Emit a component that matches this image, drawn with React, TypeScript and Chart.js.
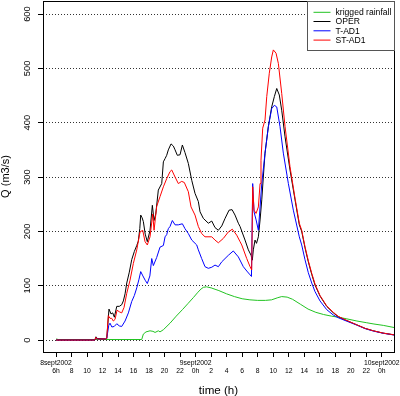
import { useEffect, useRef } from "react";
import { Chart, registerables } from "chart.js";

Chart.register(...registerables);

// ---- data (hours counted from 8 sept 2002 0h) ----
const xTickHours = [6, 8, 10, 12, 14, 16, 18, 20, 22, 24, 26, 28, 30, 32, 34, 36, 38, 40, 42, 44, 46, 48];
const xTickHourLabels = ["6h", "8", "10", "12", "14", "16", "18", "20", "22", "0h", "2", "4", "6", "8", "10", "12", "14", "16", "18", "20", "22", "0h"];
const xTickDateLabels = ["8sept2002", "", "", "", "", "", "", "", "", "9sept2002", "", "", "", "", "", "", "", "", "", "", "", "10sept2002"];
const yTicks = [0, 100, 200, 300, 400, 500, 600];

const seriesNames = ["krigged rainfall", "OPER", "T-AD1", "ST-AD1"];
const seriesColors = ["#22c322", "#000000", "#0000ff", "#ff0000"];

const rainHours = [6, 6.3, 17.05, 17.26, 17.6, 18.12, 18.5, 18.77, 19.19, 19.41, 19.84, 20.7, 21.5, 22.3, 23.0, 23.7, 24.3, 24.7, 25.0, 25.4, 26.0, 27.0, 28.0, 29.0, 30.0, 31.0, 32.0, 33.0, 33.8, 34.6, 35.1, 35.8, 36.5, 37.5, 38.5, 39.5, 40.5, 41.5, 42.4, 43.5, 44.8, 46.0, 47.0, 48.2, 49.62];
const rainQ = [2, 1, 1, 11, 15, 17, 16, 14, 17, 15, 19, 31, 44, 56, 67, 78, 88, 94, 97, 98, 96, 91, 85, 80, 76, 74, 73, 73, 74, 78, 80, 79, 75, 66, 57, 51, 47, 44, 42, 39, 35, 32, 29.5, 27, 23];

const operHours = [6, 11.0, 11.15, 11.3, 12.4, 12.54, 12.83, 13.09, 13.31, 13.52, 13.83, 14.16, 14.47, 14.68, 14.9, 15.12, 15.45, 15.76, 16.1, 16.41, 16.61, 16.8, 16.92, 17.1, 17.26, 17.5, 17.77, 18.12, 18.42, 18.64, 18.86, 19.19, 19.63, 19.84, 20.06, 20.27, 20.48, 20.83, 21.13, 21.35, 21.64, 21.99, 22.29, 22.63, 23.06, 23.5, 23.92, 24.35, 24.57, 24.99, 25.64, 26.08, 26.5, 26.93, 27.37, 27.8, 28.31, 28.7, 29.08, 29.51, 29.73, 30.37, 30.8, 31.15, 31.31, 31.44, 31.66, 31.85, 32.09, 32.31, 32.53, 32.73, 32.95, 33.38, 33.81, 34.15, 34.46, 34.79, 35.1, 35.53, 36.17, 36.82, 37.37, 37.68, 38.1, 38.53, 38.97, 39.4, 40.04, 40.9, 41.76, 42.4, 43.27, 44.78, 45.85, 46.92, 48.17, 49.62];
const operQ = [0, 0, 6, 3, 2, 3, 57, 48, 50, 42, 62, 62, 65, 72, 85, 105, 125, 148, 163, 174, 182, 205, 230, 225, 218, 195, 181, 202, 248, 220, 232, 276, 288, 328, 334, 340, 350, 361, 357, 350, 340, 341, 359, 345, 325, 294, 270, 255, 236, 224, 215, 219, 207, 202, 210, 224, 239, 240, 230, 215, 209, 184, 166, 156, 147, 166, 184, 178, 190, 221, 258, 300, 344, 393, 429, 448, 463, 451, 423, 374, 313, 258, 212, 200, 170, 144, 121, 101, 81, 62, 50, 43, 37, 28, 21.5, 17, 12.8, 9.5];

const tad1Hours = [6, 11.0, 11.15, 11.3, 12.4, 12.54, 12.8, 12.96, 13.2, 13.5, 13.83, 14.16, 14.47, 14.9, 15.33, 15.76, 16.1, 16.41, 16.7, 16.92, 17.2, 17.5, 17.77, 18.1, 18.34, 18.55, 18.98, 19.41, 19.84, 20.06, 20.27, 20.48, 20.7, 21.0, 21.35, 21.77, 22.29, 22.63, 23.06, 23.5, 24.14, 24.35, 24.78, 25.21, 25.64, 26.08, 26.5, 26.93, 27.37, 28.22, 28.86, 29.51, 30.15, 30.6, 31.02, 31.2, 31.36, 31.53, 31.8, 32.09, 32.31, 32.53, 32.95, 33.38, 33.81, 34.15, 34.46, 34.88, 35.31, 35.96, 36.6, 37.37, 37.68, 38.1, 38.53, 38.97, 39.4, 40.04, 40.9, 41.76, 42.4, 43.27, 44.78, 45.85, 46.92, 48.17, 49.62];
const tad1Q = [0, 0, 4, 2, 2, 3, 27, 31, 24, 25, 30, 26, 25, 35, 50, 71, 82, 96, 112, 126, 118, 110, 104, 118, 150, 137, 152, 171, 174, 190, 194, 205, 209, 220, 212, 212, 214, 205, 196, 184, 175, 166, 150, 135, 132, 134, 138, 135, 144, 156, 164, 153, 135, 127, 120, 117, 288, 236, 221, 202, 245, 288, 344, 393, 426, 432, 429, 393, 344, 288, 239, 190, 175, 148, 124, 105, 89, 72, 56, 46, 41, 36, 27.5, 21, 16.5, 12.5, 9.2];

const stad1Hours = [6, 11.0, 11.15, 11.3, 12.4, 12.54, 12.74, 12.96, 13.18, 13.39, 13.61, 13.87, 14.16, 14.47, 14.77, 15.12, 15.54, 15.97, 16.41, 16.83, 17.18, 17.48, 17.77, 18.12, 18.47, 18.64, 18.98, 19.41, 19.84, 20.27, 20.7, 20.92, 21.35, 21.77, 22.2, 22.54, 23.06, 23.41, 23.92, 24.35, 24.78, 25.21, 26.08, 26.5, 26.93, 27.57, 28.22, 28.73, 29.3, 29.73, 29.95, 30.59, 31.02, 31.23, 31.36, 31.53, 31.79, 32.09, 32.31, 32.43, 32.65, 32.95, 33.17, 33.5, 33.81, 34.02, 34.37, 34.67, 35.1, 35.53, 36.17, 36.82, 37.37, 37.68, 38.1, 38.53, 38.97, 39.4, 40.04, 40.9, 41.76, 42.4, 43.27, 44.78, 45.85, 46.92, 48.17, 49.62];
const stad1Q = [0, 0, 5, 2, 2, 3, 45, 40, 40, 35, 38, 55, 52, 50, 60, 86, 110, 141, 166, 199, 202, 181, 175, 190, 232, 202, 246, 264, 282, 297, 310, 313, 300, 288, 292, 290, 273, 245, 230, 209, 196, 190, 190, 184, 179, 187, 199, 204, 193, 181, 175, 150, 135, 129, 282, 239, 233, 245, 288, 331, 390, 405, 448, 491, 521, 534, 528, 509, 454, 393, 319, 261, 215, 202, 172, 146, 123, 103, 82, 63, 51, 43.5, 37.5, 28, 21.5, 17, 12.8, 9.5];

const FONT = "'Liberation Sans', Arial, Helvetica, sans-serif";

const toPoints = (hs: number[], qs: number[]) => hs.map((h, i) => ({ x: h, y: qs[i] }));

const frameAndLegend = {
  id: "frameAndLegend",
  afterDraw(chart: any) {
    const { ctx, chartArea } = chart;
    ctx.save();
    // plot box
    ctx.strokeStyle = "#000";
    ctx.lineWidth = 1;
    ctx.setLineDash([]);
    ctx.strokeRect(
      Math.round(chartArea.left) + 0.5,
      Math.round(chartArea.top) + 0.5,
      Math.round(chartArea.right) - Math.round(chartArea.left),
      Math.round(chartArea.bottom) - Math.round(chartArea.top)
    );
    // legend box (top-right)
    const bx = 307.5, by = Math.round(chartArea.top) + 0.5;
    const bw = Math.round(chartArea.right) + 0.5 - bx, bh = 49;
    ctx.fillStyle = "#fff";
    ctx.fillRect(bx, by, bw, bh);
    ctx.strokeStyle = "#555";
    ctx.strokeRect(bx, by, bw, bh);
    const rows = [12.3, 21.5, 30.8, 40.1];
    ctx.font = `8.6px ${FONT}`;
    ctx.textBaseline = "middle";
    ctx.textAlign = "left";
    chart.data.datasets.forEach((ds: any, i: number) => {
      const y = rows[i];
      ctx.strokeStyle = ds.borderColor;
      ctx.lineWidth = 1;
      ctx.beginPath();
      ctx.moveTo(313.5, y);
      ctx.lineTo(330.5, y);
      ctx.stroke();
      ctx.fillStyle = "#000";
      ctx.fillText(ds.label, 335.5, y + 0.5);
    });
    ctx.restore();
  },
};

export default function App() {
  const ref = useRef<HTMLCanvasElement | null>(null);
  useEffect(() => {
    if (!ref.current) return;
    Chart.defaults.font.family = FONT;
    const mk = (i: number, hs: number[], qs: number[], order: number) => ({
      label: seriesNames[i],
      data: toPoints(hs, qs),
      borderColor: seriesColors[i],
      backgroundColor: seriesColors[i],
      borderWidth: 1,
      pointRadius: 0,
      pointHoverRadius: 0,
      tension: 0,
      fill: false,
      order,
    });
    const chart = new Chart(ref.current, {
      type: "line",
      data: {
        datasets: [
          mk(0, rainHours, rainQ, 3),
          mk(1, operHours, operQ, 2),
          mk(2, tad1Hours, tad1Q, 1),
          mk(3, stad1Hours, stad1Q, 0),
        ],
      },
      options: {
        animation: false,
        responsive: false,
        devicePixelRatio: 1,
        parsing: true,
        events: [],
        layout: { padding: { left: 0, top: 1, right: 6, bottom: 0 } },
        plugins: { legend: { display: false }, tooltip: { enabled: false } },
        scales: {
          x: {
            type: "linear",
            min: 4.32,
            max: 49.58,
            afterBuildTicks: (s: any) => {
              s.ticks = xTickHours.map((v) => ({ value: v }));
            },
            afterFit: (s: any) => {
              s.height = 44;
              s.paddingLeft = 0;
              s.paddingRight = 0;
            },
            ticks: {
              autoSkip: false,
              maxRotation: 0,
              minRotation: 0,
              padding: 2,
              color: "#000",
              font: { family: FONT, size: 6.8, lineHeight: "8px" },
              callback: (_v: any, i: number) => [xTickDateLabels[i], xTickHourLabels[i]],
            },
            grid: { drawOnChartArea: false, drawTicks: true, tickLength: 5, tickColor: "#000", tickWidth: 1 },
            border: { display: false },
            title: {
              display: true,
              text: "time (h)",
              color: "#000",
              font: { family: FONT, size: 11.6, lineHeight: 1 },
              padding: { top: 0, bottom: -1 },
            },
          },
          y: {
            type: "linear",
            min: -22,
            max: 624,
            afterBuildTicks: (s: any) => {
              s.ticks = yTicks.map((v) => ({ value: v }));
            },
            afterFit: (s: any) => {
              s.width = 43;
              s.paddingTop = 0;
              s.paddingBottom = 0;
            },
            ticks: {
              minRotation: 90,
              maxRotation: 90,
              crossAlign: "center",
              padding: 2.5,
              color: "#000",
              font: { family: FONT, size: 9.4 },
            },
            grid: {
              color: "#333",
              lineWidth: 1,
              drawTicks: true,
              tickLength: 5,
              tickColor: "#000",
              tickBorderDash: [],
            },
            border: { display: false, dash: [1, 2] },
            title: {
              display: true,
              text: "Q (m3/s)",
              color: "#000",
              font: { family: FONT, size: 11, lineHeight: 1.1 },
              padding: { top: 0, bottom: 0 },
            },
          },
        },
      } as any,
      plugins: [frameAndLegend],
    });
    return () => chart.destroy();
  }, []);
  return (
    <div style={{ position: "fixed", left: 0, top: 0, width: 400, height: 396, background: "#fff" }}>
      <canvas ref={ref} width={400} height={396} style={{ display: "block", width: 400, height: 396 }} />
    </div>
  );
}
